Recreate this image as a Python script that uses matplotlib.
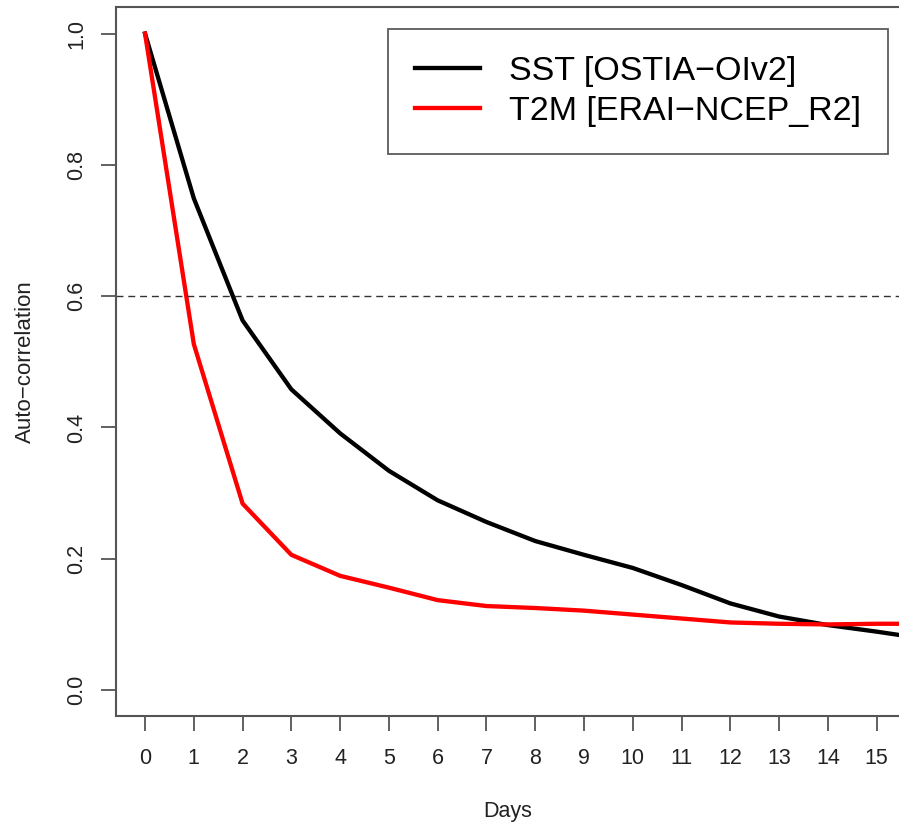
import numpy as np
import matplotlib.pyplot as plt

plt.rcParams['font.family'] = ['Liberation Sans', 'DejaVu Sans']

days = np.arange(0, 17)
sst = [1.0, 0.749, 0.563, 0.458, 0.391, 0.334, 0.289, 0.256, 0.227, 0.206,
       0.186, 0.160, 0.132, 0.112, 0.099, 0.089, 0.078]
t2m = [1.0, 0.527, 0.284, 0.206, 0.174, 0.156, 0.137, 0.128, 0.125, 0.121,
       0.115, 0.109, 0.103, 0.101, 0.100, 0.101, 0.101]
labels = ['SST [OSTIA\u2212OIv2]', 'T2M [ERAI\u2212NCEP_R2]']
threshold = 0.6

fig = plt.figure(figsize=(8.99, 8.25), dpi=100)
ax = fig.add_axes([0.1285, 0.1325, 0.8715, 0.859])

ax.plot(days, sst, color='black', lw=3.1, label=labels[0], solid_joinstyle='round')
ax.plot(days, t2m, color='#ff0000', lw=3.1, label=labels[1], solid_joinstyle='round')
ax.axhline(threshold, color='#333333', lw=1.0, ls=(0, (5, 3.5)))

ax.set_xlim(-0.605, 15.457)
ax.set_ylim(-0.039, 1.0404)
ax.set_xticks(np.arange(0, 16))
ax.set_yticks([0.0, 0.2, 0.4, 0.6, 0.8, 1.0])
ax.set_yticklabels(['0.0', '0.2', '0.4', '0.6', '0.8', '1.0'], rotation=90, va='center')

ax.spines['right'].set_visible(False)
for s in ['left', 'bottom', 'top']:
    ax.spines[s].set_color('#555555')
    ax.spines[s].set_linewidth(1.5)
ax.tick_params(axis='both', length=10.5, width=1.3, color='#555555',
               labelsize=15.5, labelcolor='#222222')
ax.tick_params(axis='x', pad=13)
ax.tick_params(axis='y', pad=10)

ax.set_xlabel('Days', fontsize=15.5, color='#222222', labelpad=23)
ax.set_ylabel('Auto\u2212correlation', fontsize=16, color='#222222', labelpad=22)

leg = ax.legend(loc='upper left', bbox_to_anchor=(0.3478, 0.969), borderaxespad=0,
                fontsize=24.5, frameon=True, fancybox=False, edgecolor='#333333',
                borderpad=0.8, labelspacing=0.26, handlelength=1.9, handletextpad=0.85)
leg.get_frame().set_linewidth(1.3)

fig.savefig('out.png', dpi=100)
